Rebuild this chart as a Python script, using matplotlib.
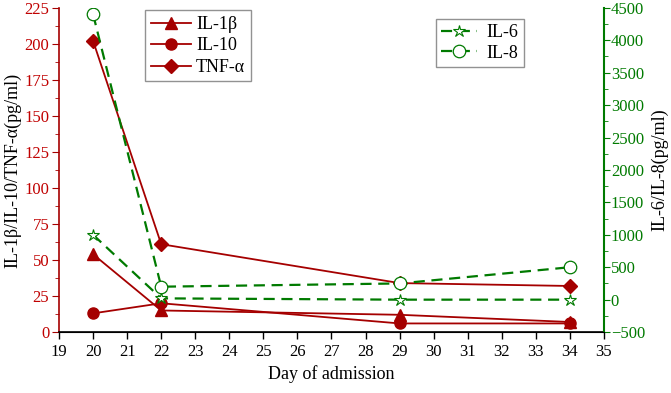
import matplotlib.pyplot as plt
from matplotlib.ticker import MultipleLocator

plt.rcParams["font.family"] = ["Liberation Serif", "DejaVu Serif"]

days = [20, 22, 29, 34]
il1b = [54, 15, 12, 7]
il10 = [13, 20, 6, 6]
tnfa = [202, 61, 34, 32]
il6 = [1000, 20, 0, 0]
il8 = [4400, 200, 250, 500]

red = "#A50000"
tick_red = "#C00000"
green = "#007A00"

fig = plt.figure(figsize=(6.71, 3.93), dpi=100)
ax = fig.add_axes([0.088, 0.155, 0.812, 0.825])
ax2 = ax.twinx()

ax.plot(days, il1b, color=red, lw=1.3, marker="^", ms=8, label="IL-1β")
ax.plot(days, il10, color=red, lw=1.3, marker="o", ms=8, label="IL-10")
ax.plot(days, tnfa, color=red, lw=1.3, marker="D", ms=7, label="TNF-α")

ax2.plot(days, il6, color=green, lw=1.6, ls=(0, (5, 3)), marker="*", ms=9,
         mfc="white", mec=green, mew=0.8, label="IL-6")
ax2.plot(days, il8, color=green, lw=1.6, ls=(0, (5, 3)), marker="o", ms=9,
         mfc="white", mec=green, mew=0.9, label="IL-8")

ax.set_xlim(19, 35)
ax.set_ylim(0, 225)
ax2.set_ylim(-500, 4500)
ax.xaxis.set_major_locator(MultipleLocator(1))
ax.yaxis.set_major_locator(MultipleLocator(25))
ax.yaxis.set_minor_locator(MultipleLocator(12.5))
ax2.yaxis.set_major_locator(MultipleLocator(500))
ax2.yaxis.set_minor_locator(MultipleLocator(250))

for a in (ax, ax2):
    a.spines["top"].set_visible(False)
ax.spines["right"].set_visible(False)
ax.spines["left"].set_color(red)
ax2.spines["left"].set_visible(False)
ax2.spines["right"].set_color(green)
ax2.spines["right"].set_linewidth(1.5)
ax.spines["left"].set_linewidth(1.2)
ax.spines["bottom"].set_linewidth(1.2)

ax.tick_params(axis="x", direction="out", length=5, width=1, labelsize=12)
ax.tick_params(axis="y", which="major", direction="out", length=5, color=red,
               labelcolor=tick_red, labelsize=12, pad=2)
ax.tick_params(axis="y", which="minor", direction="out", length=3, color=red)
ax2.tick_params(axis="y", which="major", direction="out", length=4, color=green,
                labelcolor=green, labelsize=12, pad=1)
ax2.tick_params(axis="y", which="minor", direction="out", length=3, color=green)

ax.set_xlabel("Day of admission", fontsize=13)
ax.set_ylabel("IL-1β/IL-10/TNF-α(pg/ml)", fontsize=13, labelpad=2)
ax2.set_ylabel("IL-6/IL-8(pg/ml)", fontsize=13, labelpad=4)

leg1 = ax.legend(loc="upper left", bbox_to_anchor=(0.142, 1.02), fontsize=13,
                 fancybox=False, edgecolor="#777777", handlelength=2.2,
                 borderpad=0.3, labelspacing=0.25, handletextpad=0.3)
leg1.get_frame().set_linewidth(1)
leg2 = ax2.legend(loc="upper left", bbox_to_anchor=(0.675, 0.995), fontsize=13,
                  fancybox=False, edgecolor="#777777", handlelength=2.0,
                  borderpad=0.3, labelspacing=0.2, handletextpad=0.5)
leg2.get_frame().set_linewidth(1)

fig.savefig("out.png", dpi=100)
